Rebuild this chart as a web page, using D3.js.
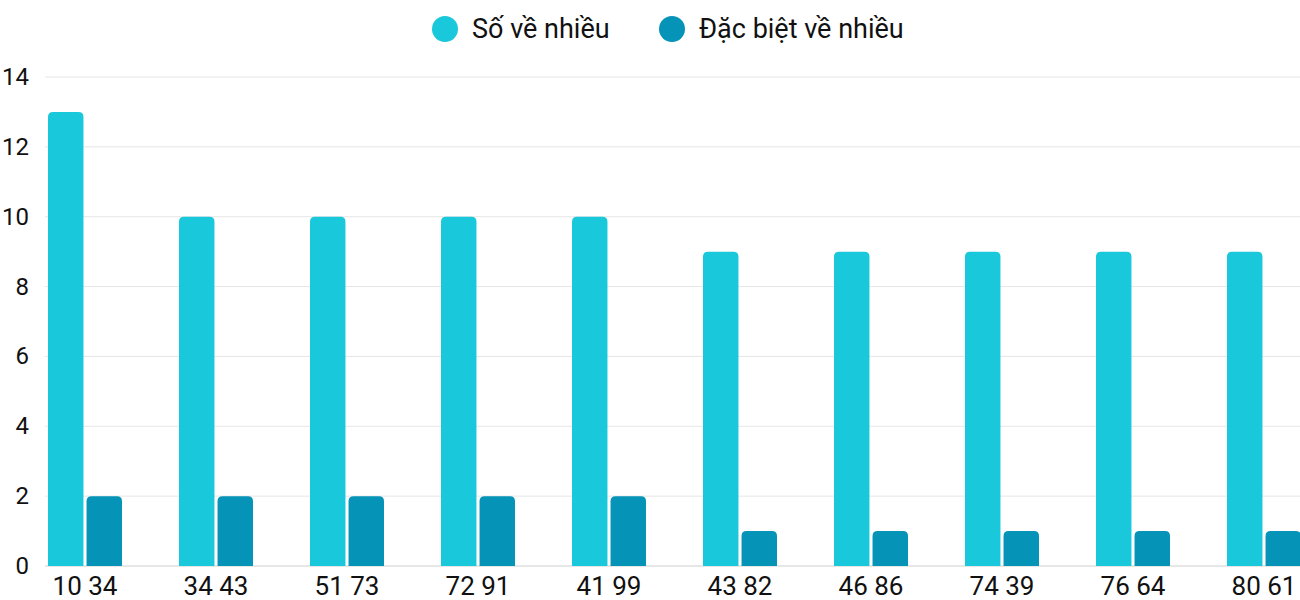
<!DOCTYPE html>
<html><head><meta charset="utf-8">
<script src="https://cdn.jsdelivr.net/npm/d3@7"></script>
<style>body{margin:0;background:#fff}text{font-family:Roboto,sans-serif}</style>
</head><body><svg id="c" width="1300" height="600"></svg>
<script>
const categories = ["10 34","34 43","51 73","72 91","41 99","43 82","46 86","74 39","76 64","80 61"]
const soVeNhieu = [13,10,10,10,10,9,9,9,9,9]
const dacBiet = [2,2,2,2,2,1,1,1,1,1]
const seriesNames = ["Số về nhiều","Đặc biệt về nhiều"]
const colors = ["#1ac8db","#0593b8"]
const yTicks = [0,2,4,6,8,10,12,14]

const svg = d3.select("#c")
const y = d3.scaleLinear().domain([0,14]).range([566,77])
// each group holds two bars
const step = 131, x0 = d3.scaleBand().domain(categories).range([19.5, 19.5 + step*10])
const x1 = d3.scaleBand().domain([0,1]).range([28.5, 102.5]).paddingInner(0.08)

svg.append("g").selectAll("line").data(yTicks).join("line")
  .attr("x1",45).attr("x2",1300).attr("y1",d=>y(d)).attr("y2",d=>y(d))
  .attr("stroke",d=>d===0?"#cfcfcf":"#e6e6e6")
svg.append("g").selectAll("text").data(yTicks).join("text")
  .attr("x",29).attr("y",d=>y(d)+8).attr("text-anchor","end")
  .attr("font-size",24).attr("fill","#111").text(d=>d)

function roundTop(xp,yp,w,h,r){
  r=Math.min(r,h)
  return `M${xp},${yp+h}V${yp+r}Q${xp},${yp} ${xp+r},${yp}H${xp+w-r}Q${xp+w},${yp} ${xp+w},${yp+r}V${yp+h}Z`
}
const data = [soVeNhieu, dacBiet]
data.forEach((vals,s)=>{
  svg.append("g").selectAll("path").data(vals).join("path")
    .attr("fill",colors[s])
    .attr("d",(v,i)=>roundTop(x0(categories[i])+x1(s), y(v), x1.bandwidth(), y(0)-y(v), 5))
})
svg.append("g").selectAll("text").data(categories).join("text")
  .attr("x",d=>x0(d)+65.5).attr("y",595).attr("text-anchor","middle")
  .attr("font-size",26).attr("fill","#111").text(d=>d)

const lg = svg.append("g")
const lx = [445,672]
seriesNames.forEach((n,i)=>{
  lg.append("circle").attr("cx",lx[i]).attr("cy",29).attr("r",13).attr("fill",colors[i])
  lg.append("text").attr("x",lx[i]+27).attr("y",38).attr("font-size",27).attr("fill","#111").text(n)
})
</script></body></html>
